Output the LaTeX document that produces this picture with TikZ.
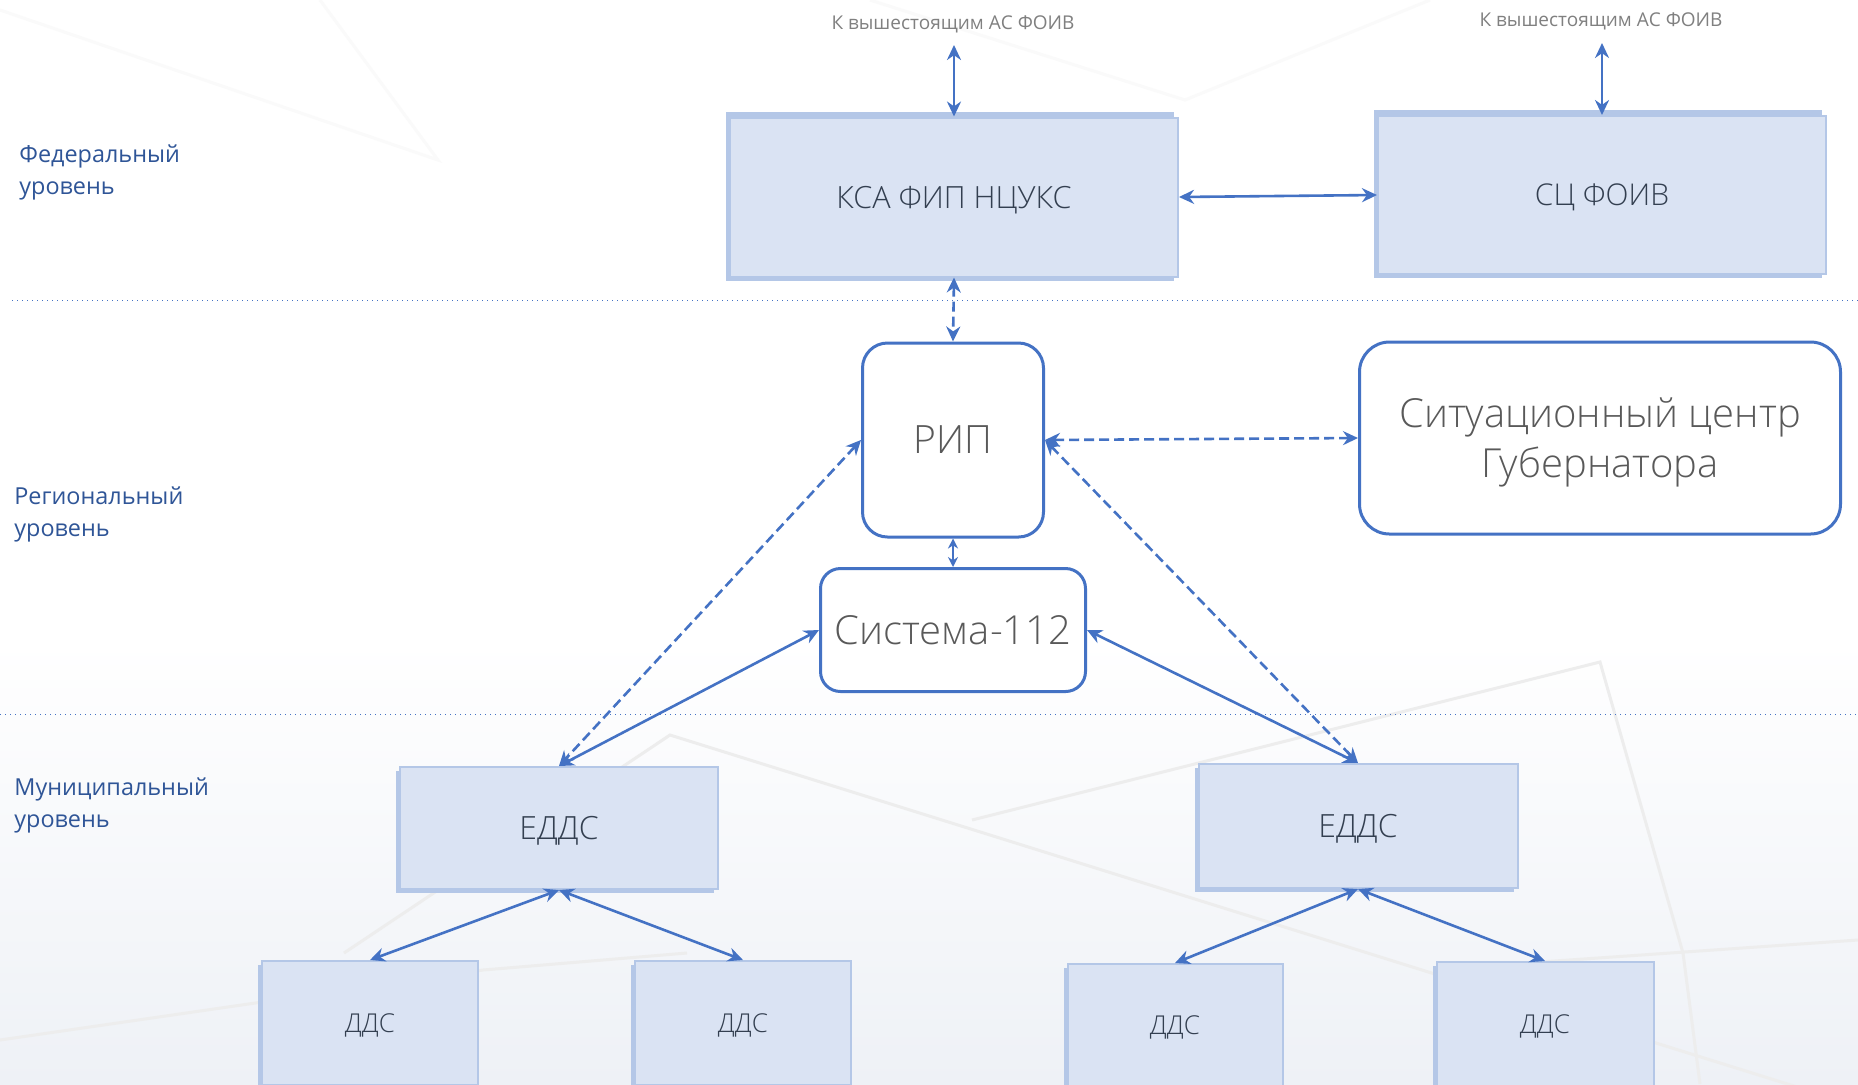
\documentclass[tikz,border=0pt]{standalone}
\usepackage{fontspec}
\setmainfont{Open Sans}
\newfontfamily\thinfont{Open Sans Light}
\usetikzlibrary{arrows.meta,shadows}

\definecolor{boxfill}{HTML}{DAE3F3}
\definecolor{boxline}{HTML}{B4C7E7}
\definecolor{accent}{HTML}{4472C4}
\definecolor{levelc}{HTML}{2F5597}
\definecolor{boxtext}{HTML}{333F50}
\definecolor{bgtint}{HTML}{EEF1F6}

\begin{document}
\begin{tikzpicture}
  [x=0.5pt,y=-0.5pt,
   flatbox/.style={rectangle,draw=boxline,fill=boxfill,line width=1pt,text=boxtext,inner sep=0pt,text depth=0pt,
     drop shadow={fill=boxline,opacity=1,shadow xshift=-2pt,shadow yshift=-2pt}},
   roundbox/.style={rectangle,draw=accent,fill=white,line width=1.5pt,text=black!65,inner sep=0pt,text depth=0pt},
   lvl/.style={anchor=west,align=left,inner sep=0pt,text=levelc,font=\fontsize{11.7}{16}\selectfont},
   toplabel/.style={text=black!50,font=\fontsize{9.5}{12}\selectfont},
   link/.style={draw=accent,line width=1.3pt,{Stealth[length=7.5pt,width=7pt]}-{Stealth[length=7.5pt,width=7pt]}},
   dlink/.style={link,dash pattern=on 5pt off 2.5pt},
   levelline/.style={draw=accent,dotted,line width=0.5pt},
   bgline/.style={draw=black!7,line width=1.5pt}]
  \useasboundingbox (0,0) rectangle (1858,1084);
  \clip (0,0) rectangle (1858,1084);
  \fill[white] (0,0) rectangle (1858,1084);
  % background
  \shade[top color=white,bottom color=bgtint] (0,640) rectangle (1858,1084);
  \draw[bgline] (344,953) -- (670,735) -- (1422,970) -- (1858,1106);
  \draw[bgline] (972,820) -- (1600,662) -- (1683,953) -- (1700,1084);
  \draw[bgline] (0,1040) -- (483,970) -- (687,953);
  \draw[bgline] (1540,962) -- (1858,940);
  \draw[black!2,line width=1.5pt] (0,10) -- (438,160) -- (320,0);
  \draw[black!2,line width=1.5pt] (870,0) -- (1185,100) -- (1430,0);

  % levels
  \draw[levelline] (12,300) -- (1858,300);
  \draw[levelline] (0,714) -- (1858,714);
  \node[lvl] (fed) at (19,172)  {Федеральный\\уровень};
  \node[lvl] (reg) at (14,514)  {Региональный\\уровень};
  \node[lvl] (mun) at (14,805)  {Муниципальный\\уровень};

  % federal
  \node[toplabel] (up1) at (953,24) {К вышестоящим АС ФОИВ};
  \node[toplabel] (up2) at (1601,21) {К вышестоящим АС ФОИВ};
  \coordinate (t1) at (954,45);
  \coordinate (t2) at (1602,43);
  \node[flatbox,minimum width=224pt,minimum height=79.5pt,font=\thinfont\fontsize{15.3}{18}\selectfont,
    drop shadow={fill=boxline,opacity=1,shadow xshift=-2pt,shadow yshift=3pt}]
    (ksa) at (954,197) {КСА ФИП НЦУКС};
  \node[flatbox,minimum width=224pt,minimum height=79pt,font=\thinfont\fontsize{15}{18}\selectfont,
    drop shadow={fill=boxline,opacity=1,shadow xshift=-2pt,shadow yshift=3pt}]
    (scf) at (1602,195) {СЦ ФОИВ};

  % regional
  \node[roundbox,rounded corners=12.5pt,minimum width=90.5pt,minimum height=97pt,font=\thinfont\fontsize{19.5}{24}\selectfont]
    (rip) at (953,440) {РИП};
  \node[roundbox,rounded corners=10pt,minimum width=132.5pt,minimum height=61.5pt,font=\thinfont\fontsize{20}{24}\selectfont]
    (s112) at (953,630) {Система-112};
  \node[roundbox,rounded corners=15pt,minimum width=240.5pt,minimum height=96pt,align=center,font=\thinfont\fontsize{20}{25}\selectfont]
    (sc) at (1600,438) {Ситуационный центр\\Губернатора};

  % municipal
  \node[flatbox,minimum width=159pt,minimum height=61pt,font=\thinfont\fontsize{16}{18}\selectfont] (e1) at (559,828) {ЕДДС};
  \node[flatbox,minimum width=159.5pt,minimum height=62pt,font=\thinfont\fontsize{16}{18}\selectfont] (e2) at (1358,826) {ЕДДС};
  \node[flatbox,minimum width=108pt,minimum height=62pt,font=\thinfont\fontsize{13}{16}\selectfont] (d1) at (370,1023) {ДДС};
  \node[flatbox,minimum width=108pt,minimum height=62pt,font=\thinfont\fontsize{13}{16}\selectfont] (d2) at (743,1023) {ДДС};
  \node[flatbox,minimum width=107.5pt,minimum height=61pt,font=\thinfont\fontsize{13}{16}\selectfont] (d3) at (1175,1025) {ДДС};
  \node[flatbox,minimum width=108.5pt,minimum height=62pt,font=\thinfont\fontsize{13}{16}\selectfont] (d4) at (1545,1024) {ДДС};

  \draw[link] (t1) -- (ksa.north);
  \draw[link] (t2) -- (scf.north);
  \draw[link] (ksa.east) -- (scf.west);
  \draw[dlink] (ksa.south) -- (rip.north);
  \draw[link,{Stealth[length=5pt,width=5pt]}-{Stealth[length=5pt,width=5pt]}] (rip.south) -- (s112.north);
  \draw[dlink] (rip.east) -- (sc.west);
  \draw[dlink] (rip.west) -- (e1.north);
  \draw[dlink] (rip.east) -- (e2.north);
\foreach \from/\to in {s112.west/e1.north, s112.east/e2.north, e1.south/d1.north, e1.south/d2.north, e2.south/d3.north, e2.south/d4.north}
    \draw[link] (\from) -- (\to);
\end{tikzpicture}
\end{document}
